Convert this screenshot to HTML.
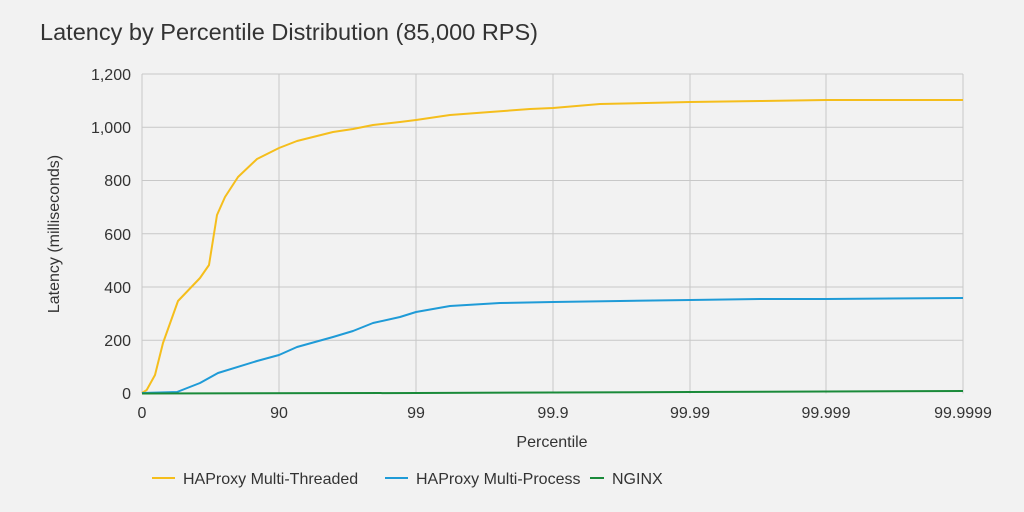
<!DOCTYPE html>
<html><head><meta charset="utf-8"><style>
body{margin:0;background:#f2f2f2;}
svg{display:block;font-family:"Liberation Sans",sans-serif;}
</style></head><body>
<svg width="1024" height="512" viewBox="0 0 1024 512">
<rect width="1024" height="512" fill="#f2f2f2"/>
<text x="40" y="40" font-size="23" fill="#333" textLength="498" lengthAdjust="spacingAndGlyphs">Latency by Percentile Distribution (85,000 RPS)</text>
<g stroke="#c8c8c8" stroke-width="1">
<line x1="142" y1="74" x2="963" y2="74"/>
<line x1="142" y1="127.3" x2="963" y2="127.3"/>
<line x1="142" y1="180.5" x2="963" y2="180.5"/>
<line x1="142" y1="233.8" x2="963" y2="233.8"/>
<line x1="142" y1="287" x2="963" y2="287"/>
<line x1="142" y1="340.2" x2="963" y2="340.2"/>
<line x1="142" y1="74" x2="142" y2="393.5"/>
<line x1="279" y1="74" x2="279" y2="393.5"/>
<line x1="416" y1="74" x2="416" y2="393.5"/>
<line x1="553" y1="74" x2="553" y2="393.5"/>
<line x1="690" y1="74" x2="690" y2="393.5"/>
<line x1="826" y1="74" x2="826" y2="393.5"/>
<line x1="963" y1="74" x2="963" y2="393.5"/>
</g>
<g font-size="16" fill="#333" text-anchor="end">
<text x="131" y="80">1,200</text>
<text x="131" y="133">1,000</text>
<text x="131" y="186">800</text>
<text x="131" y="240">600</text>
<text x="131" y="293">400</text>
<text x="131" y="346">200</text>
<text x="131" y="399">0</text>
</g>
<g font-size="16" fill="#333" text-anchor="middle">
<text x="142" y="418">0</text>
<text x="279" y="418">90</text>
<text x="416" y="418">99</text>
<text x="553" y="418">99.9</text>
<text x="690" y="418">99.99</text>
<text x="826" y="418">99.999</text>
<text x="963" y="418">99.9999</text>
<text x="552" y="447">Percentile</text>
</g>
<text transform="translate(59,234) rotate(-90)" font-size="16" fill="#333" text-anchor="middle">Latency (milliseconds)</text>
<g fill="none" stroke-width="2" stroke-linejoin="round">
<polyline stroke="#f5be1c" points="142,393 146.7,390 155,375 163,343 178,301 200,278 209,265 217,215 225,197 238,177 257,159 279,148 297,141 333,132 353,129 373,125 400,122 416,120 450,115 490,112 530,109 553,108 600,104 690,102 760,101 826,100 963,100"/>
<polyline stroke="#1f9bd7" points="142,393 177,392 200,383 218,373 257,361 279,355 297,347 333,337 353,331 373,323 400,317 416,312 450,306 500,303 553,302 620,301 690,300 760,299 826,299 963,298"/>
<polyline stroke="#1a8a3a" points="142,393.5 416,393 553,392.5 690,392 826,391.5 963,391"/>
</g>
<g stroke-width="2">
<line x1="152" y1="478" x2="175" y2="478" stroke="#f5be1c"/>
<line x1="385" y1="478" x2="408" y2="478" stroke="#1f9bd7"/>
<line x1="590" y1="478" x2="604" y2="478" stroke="#1a8a3a"/>
</g>
<g font-size="16" fill="#333">
<text x="183" y="484">HAProxy Multi-Threaded</text>
<text x="416" y="484">HAProxy Multi-Process</text>
<text x="612" y="484">NGINX</text>
</g>
</svg>
</body></html>
